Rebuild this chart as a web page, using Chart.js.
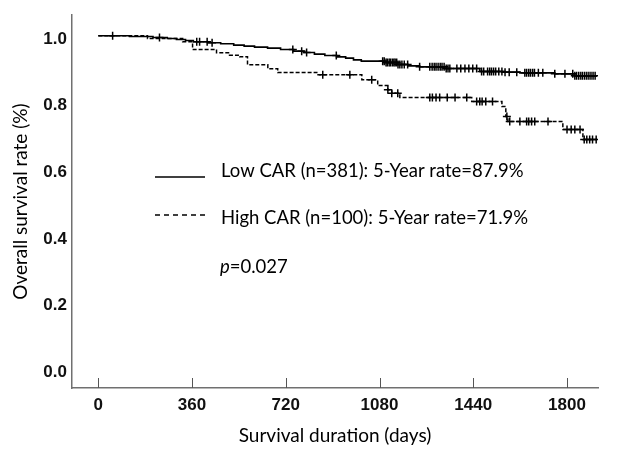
<!DOCTYPE html>
<html>
<head>
<meta charset="utf-8">
<script src="https://cdn.jsdelivr.net/npm/chart.js@4.4.1/dist/chart.umd.min.js"></script>
<style>
  html, body { margin: 0; padding: 0; background: #fff; }
</style>
</head>
<body>
<canvas id="kmChart" width="620" height="463"></canvas>
<script>
// Kaplan-Meier steps (days, survival)
const lowDays = [0, 120, 210, 265, 300, 335, 365, 420, 470, 520, 560, 600, 650, 700, 750, 790, 830, 870, 915, 950, 980, 1010, 1100, 1150, 1190, 1234, 1330, 1465, 1560, 1619, 1753, 1830, 1915];
const lowSurv = [1.000, 0.998, 0.995, 0.992, 0.989, 0.986, 0.982, 0.979, 0.976, 0.972, 0.969, 0.966, 0.963, 0.959, 0.954, 0.950, 0.945, 0.941, 0.937, 0.933, 0.928, 0.924, 0.920, 0.914, 0.910, 0.907, 0.902, 0.893, 0.891, 0.889, 0.886, 0.880, 0.880];

const highDays = [0, 189, 324, 362, 454, 504, 543, 573, 651, 689, 839, 1012, 1073, 1112, 1127, 1158, 1434, 1550, 1565, 1573, 1784, 1861, 1915];
const highSurv = [1.000, 0.992, 0.982, 0.959, 0.949, 0.942, 0.937, 0.913, 0.901, 0.890, 0.883, 0.868, 0.851, 0.838, 0.828, 0.815, 0.803, 0.788, 0.758, 0.743, 0.719, 0.689, 0.689];

// censored observations (days)
const lowCensor = [55, 235, 378, 389, 418, 437, 747, 781, 800, 914, 1092, 1098, 1105, 1110, 1117, 1122, 1129, 1135, 1140, 1146, 1151, 1158, 1166, 1175, 1188, 1234, 1273, 1282, 1290, 1297, 1305, 1313, 1320, 1328, 1336, 1343, 1350, 1377, 1392, 1408, 1423, 1438, 1453, 1472, 1480, 1495, 1503, 1510, 1518, 1526, 1538, 1550, 1562, 1578, 1607, 1638, 1645, 1653, 1660, 1668, 1675, 1690, 1707, 1753, 1792, 1822, 1830, 1837, 1845, 1853, 1860, 1868, 1876, 1884, 1892, 1900, 1908];
const highCensor = [862, 966, 1050, 1112, 1127, 1150, 1273, 1283, 1297, 1311, 1340, 1370, 1415, 1453, 1465, 1474, 1488, 1514, 1569, 1580, 1619, 1645, 1653, 1664, 1676, 1727, 1800, 1816, 1830, 1850, 1866, 1876, 1887, 1898, 1912];

const xTicks = [0, 360, 720, 1080, 1440, 1800];
const yTicks = [0, 0.2, 0.4, 0.6, 0.8, 1.0];
const legendLabels = ["Low CAR (n=381): 5-Year rate=87.9%", "High CAR (n=100): 5-Year rate=71.9%"];
const pValue = "=0.027";

const toPoints = (days, surv) => days.map((d, i) => ({ x: d, y: surv[i] }));

function survAt(days, surv, t) {
  let v = surv[0];
  for (let i = 0; i < days.length; i++) {
    if (days[i] <= t) v = surv[i];
  }
  return v;
}

const censorPoints = (cens, days, surv) => cens.map(t => ({ x: t, y: survAt(days, surv, t) }));

const xTickMarks = {
  id: "xTickMarks",
  afterDraw(chart) {
    const s = chart.scales.x;
    const c = chart.ctx;
    c.save();
    c.strokeStyle = "#555";
    c.lineWidth = 1;
    xTicks.forEach(t => {
      const px = Math.round(s.getPixelForValue(t)) + 0.5;
      c.beginPath();
      c.moveTo(px, s.top);
      c.lineTo(px, s.top - 10);
      c.stroke();
    });
    c.restore();
  }
};

const legendText = {
  id: "legendText",
  afterDraw(chart) {
    const c = chart.ctx;
    c.save();
    c.strokeStyle = "#000";
    c.lineWidth = 1.5;
    c.beginPath();
    c.moveTo(155, 177);
    c.lineTo(205, 177);
    c.stroke();
    c.setLineDash([5, 4]);
    c.beginPath();
    c.moveTo(155, 215);
    c.lineTo(205, 215);
    c.stroke();
    c.setLineDash([]);

    c.fillStyle = "#000";
    c.textBaseline = "middle";
    c.font = "18.5px Lato";
    c.fillText(legendLabels[0], 221, 171);
    c.fillText(legendLabels[1], 221, 218);
    c.font = "italic 18.5px Lato";
    c.fillText("p", 220, 267);
    const w = c.measureText("p").width;
    c.font = "18.5px Lato";
    c.fillText(pValue, 220 + w, 267);
    c.restore();
  }
};

const ctx = document.getElementById("kmChart");

const kmChart = new Chart(ctx, {
  type: "line",
  data: {
    datasets: [
      {
        label: "Low CAR",
        data: toPoints(lowDays, lowSurv),
        stepped: true,
        borderColor: "#000",
        borderWidth: 1.6,
        pointRadius: 0,
        fill: false
      },
      {
        label: "High CAR",
        data: toPoints(highDays, highSurv),
        stepped: true,
        borderColor: "#000",
        borderWidth: 1.5,
        borderDash: [4, 2],
        pointRadius: 0,
        fill: false
      },
      {
        label: "Low CAR censored",
        data: censorPoints(lowCensor, lowDays, lowSurv),
        showLine: false,
        pointStyle: "cross",
        pointRadius: 4,
        borderColor: "#000",
        borderWidth: 1.5
      },
      {
        label: "High CAR censored",
        data: censorPoints(highCensor, highDays, highSurv),
        showLine: false,
        pointStyle: "cross",
        pointRadius: 4,
        borderColor: "#000",
        borderWidth: 1.5
      }
    ]
  },
  options: {
    responsive: false,
    animation: false,
    layout: {
      padding: { top: 13, right: 22, left: 0, bottom: 0 }
    },
    plugins: {
      legend: { display: false },
      tooltip: { enabled: false }
    },
    scales: {
      x: {
        type: "linear",
        min: -101,
        max: 1919,
        afterBuildTicks: s => {
          s.ticks = xTicks.map(v => ({ value: v }));
        },
        afterFit: s => {
          s.height = 75;
        },
        grid: { display: false, drawTicks: false },
        border: { color: "#707070", width: 1.5 },
        ticks: {
          color: "#111",
          padding: 7,
          maxRotation: 0,
          font: { family: "Liberation Sans", size: 17, weight: "bold" },
          callback: v => String(v)
        },
        title: {
          display: true,
          text: "Survival duration (days)",
          color: "#000",
          font: { family: "Lato", size: 19 },
          padding: { top: 0, bottom: 16 }
        }
      },
      y: {
        min: -0.0558,
        max: 1.0618,
        afterBuildTicks: s => {
          s.ticks = yTicks.map(v => ({ value: v }));
        },
        afterFit: s => {
          s.width = 72;
        },
        grid: { display: false, drawTicks: false },
        border: { color: "#707070", width: 1.5 },
        ticks: {
          color: "#111",
          padding: 5,
          labelOffset: 3,
          font: { family: "Liberation Sans", size: 17, weight: "bold" },
          callback: v => v.toFixed(1)
        },
        title: {
          display: true,
          text: "Overall survival rate (%)",
          color: "#000",
          font: { family: "Lato", size: 19 },
          padding: { top: 9, bottom: 0 }
        }
      }
    }
  },
  plugins: [xTickMarks, legendText]
});
</script>
</body>
</html>
